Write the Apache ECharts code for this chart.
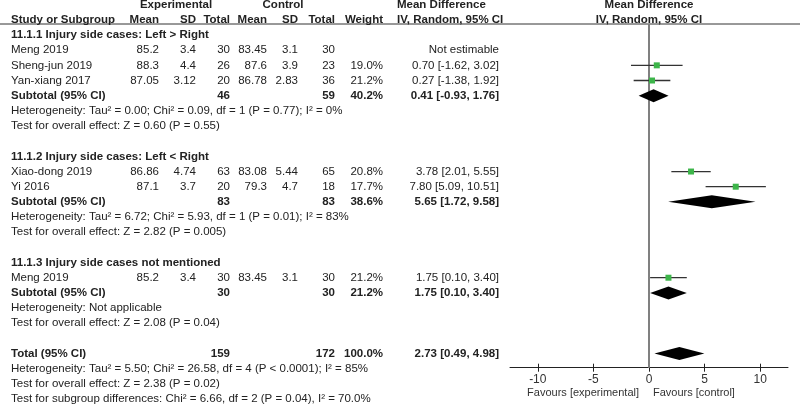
<!DOCTYPE html>
<html>
<head>
    <meta charset="utf-8">
    <title>Forest plot</title>
</head>
<body style="margin:0">
    <div id="main" style="width: 800px; height: 408px;"></div>
    <script src="https://cdn.jsdelivr.net/npm/echarts@6/dist/echarts.min.js"></script>
    <script type="text/javascript">
        // 数据
        var groupTitles = ['11.1.1 Injury side cases: Left > Right', '11.1.2 Injury side cases: Left < Right', '11.1.3 Injury side cases not mentioned'];
        var studyNames = ['Meng 2019', 'Sheng-jun 2019', 'Yan-xiang 2017', 'Xiao-dong 2019', 'Yi 2016', 'Meng 2019'];
        var studyGroup = [0, 0, 0, 1, 1, 2];
        var expMean = [85.2, 88.3, 87.05, 86.86, 87.1, 85.2];
        var expSD = [3.4, 4.4, 3.12, 4.74, 3.7, 3.4];
        var expN = [30, 26, 20, 63, 20, 30];
        var ctrlMean = [83.45, 87.6, 86.78, 83.08, 79.3, 83.45];
        var ctrlSD = [3.1, 3.9, 2.83, 5.44, 4.7, 3.1];
        var ctrlN = [30, 23, 36, 65, 18, 30];
        var weight = [null, 19.0, 21.2, 20.8, 17.7, 21.2];
        var md = [null, 0.70, 0.27, 3.78, 7.80, 1.75];
        var mdLow = [null, -1.62, -1.38, 2.01, 5.09, 0.10];
        var mdHigh = [null, 3.02, 1.92, 5.55, 10.51, 3.40];

        var subExpN = [46, 83, 30];
        var subCtrlN = [59, 83, 30];
        var subWeight = [40.2, 38.6, 21.2];
        var subMd = [0.41, 5.65, 1.75];
        var subLow = [-0.93, 1.72, 0.10];
        var subHigh = [1.76, 9.58, 3.40];
        var hetText = [
            'Heterogeneity: Tau² = 0.00; Chi² = 0.09, df = 1 (P = 0.77); I² = 0%',
            'Heterogeneity: Tau² = 6.72; Chi² = 5.93, df = 1 (P = 0.01); I² = 83%',
            'Heterogeneity: Not applicable'
        ];
        var effectText = [
            'Test for overall effect: Z = 0.60 (P = 0.55)',
            'Test for overall effect: Z = 2.82 (P = 0.005)',
            'Test for overall effect: Z = 2.08 (P = 0.04)'
        ];

        var totalExpN = 159, totalCtrlN = 172, totalWeight = 100.0;
        var totalMd = 2.73, totalLow = 0.49, totalHigh = 4.98;
        var footerText = [
            'Heterogeneity: Tau² = 5.50; Chi² = 26.58, df = 4 (P < 0.0001); I² = 85%',
            'Test for overall effect: Z = 2.38 (P = 0.02)',
            'Test for subgroup differences: Chi² = 6.66, df = 2 (P = 0.04), I² = 70.0%'
        ];
        var xTicks = [-10, -5, 0, 5, 10];

        // 布局
        var ROW0 = 35, ROWH = 15.17, H = 408;
        var PLOT_TOP = 24, PLOT_BOTTOM = 367.7;
        var COL = { study: 11, eMean: 159, eSD: 196, eN: 230, cMean: 267, cSD: 298, cN: 335, w: 383, ci: 499, ciHead: 397, plot: 649 };
        var FONT = '"Liberation Sans", Arial, sans-serif';
        var FS = '11.5px ';

        var cells = [];
        function put(x, r, t, a, b) {
            cells.push({ x: x, r: r, t: String(t), a: a || 'right', b: !!b });
        }
        function ciText(m, lo, hi) {
            return m.toFixed(2) + ' [' + lo.toFixed(2) + ', ' + hi.toFixed(2) + ']';
        }

        // 表头
        put(176, -2, 'Experimental', 'center', true);
        put(283, -2, 'Control', 'center', true);
        put(COL.ciHead, -2, 'Mean Difference', 'left', true);
        put(COL.plot, -2, 'Mean Difference', 'center', true);
        put(COL.study, -1, 'Study or Subgroup', 'left', true);
        put(COL.eMean, -1, 'Mean', 'right', true);
        put(COL.eSD, -1, 'SD', 'right', true);
        put(COL.eN, -1, 'Total', 'right', true);
        put(COL.cMean, -1, 'Mean', 'right', true);
        put(COL.cSD, -1, 'SD', 'right', true);
        put(COL.cN, -1, 'Total', 'right', true);
        put(COL.w, -1, 'Weight', 'right', true);
        put(COL.ciHead, -1, 'IV, Random, 95% CI', 'left', true);
        put(COL.plot, -1, 'IV, Random, 95% CI', 'center', true);

        var points = [], diamonds = [];
        var r = 0;
        groupTitles.forEach(function (title, g) {
            put(COL.study, r, title, 'left', true); r++;
            studyNames.forEach(function (name, s) {
                if (studyGroup[s] !== g) return;
                put(COL.study, r, name, 'left');
                put(COL.eMean, r, expMean[s]);
                put(COL.eSD, r, expSD[s]);
                put(COL.eN, r, expN[s]);
                put(COL.cMean, r, ctrlMean[s]);
                put(COL.cSD, r, ctrlSD[s]);
                put(COL.cN, r, ctrlN[s]);
                if (md[s] == null) {
                    put(COL.ci, r, 'Not estimable');
                } else {
                    put(COL.w, r, weight[s].toFixed(1) + '%');
                    put(COL.ci, r, ciText(md[s], mdLow[s], mdHigh[s]));
                    points.push([r, mdLow[s], mdHigh[s], md[s]]);
                }
                r++;
            });
            put(COL.study, r, 'Subtotal (95% CI)', 'left', true);
            put(COL.eN, r, subExpN[g], 'right', true);
            put(COL.cN, r, subCtrlN[g], 'right', true);
            put(COL.w, r, subWeight[g].toFixed(1) + '%', 'right', true);
            put(COL.ci, r, ciText(subMd[g], subLow[g], subHigh[g]), 'right', true);
            diamonds.push([r, subLow[g], subHigh[g], subMd[g]]);
            r++;
            put(COL.study, r, hetText[g], 'left'); r++;
            put(COL.study, r, effectText[g], 'left'); r++;
            r++;
        });
        put(COL.study, r, 'Total (95% CI)', 'left', true);
        put(COL.eN, r, totalExpN, 'right', true);
        put(COL.cN, r, totalCtrlN, 'right', true);
        put(COL.w, r, totalWeight.toFixed(1) + '%', 'right', true);
        put(COL.ci, r, ciText(totalMd, totalLow, totalHigh), 'right', true);
        diamonds.push([r, totalLow, totalHigh, totalMd]);
        r++;
        footerText.forEach(function (t) { put(COL.study, r, t, 'left'); r++; });

        var chartDom = document.getElementById('main');
        var myChart = echarts.init(chartDom);
        var option = {
            backgroundColor: '#fff',
            animation: false,
            grid: [
                { left: 0, right: 0, top: 0, bottom: 0, outerBoundsMode: 'none' },
                { left: 510, width: 278, top: PLOT_TOP, height: PLOT_BOTTOM - PLOT_TOP, outerBoundsMode: 'none' }
            ],
            xAxis: [
                { gridIndex: 0, type: 'value', min: 0, max: 800, show: false },
                {
                    gridIndex: 1, type: 'value', min: -12.5, max: 12.5, position: 'bottom',
                    axisLine: { onZero: false, lineStyle: { color: '#222', width: 1 } },
                    axisTick: { length: 4, customValues: xTicks, lineStyle: { color: '#222' } },
                    axisLabel: { customValues: xTicks, fontSize: 12, color: '#333', fontFamily: FONT, margin: 6 },
                    splitLine: { show: false }
                },
                {
                    // 刻度向上的部分
                    gridIndex: 1, type: 'value', min: -12.5, max: 12.5, position: 'bottom',
                    axisLine: { show: false, onZero: false },
                    axisTick: { inside: true, length: 4, customValues: xTicks, lineStyle: { color: '#222' } },
                    axisLabel: { show: false },
                    splitLine: { show: false }
                }
            ],
            yAxis: [
                { gridIndex: 0, type: 'value', inverse: true, min: -ROW0 / ROWH, max: (H - ROW0) / ROWH, show: false },
                { gridIndex: 1, type: 'value', inverse: true, min: (PLOT_TOP - ROW0) / ROWH, max: (PLOT_BOTTOM - ROW0) / ROWH, show: false }
            ],
            graphic: [
                { type: 'line', shape: { x1: 0, y1: PLOT_TOP, x2: 800, y2: PLOT_TOP }, style: { stroke: '#333', lineWidth: 1 } },
                { type: 'text', x: 639, y: 393, style: { text: 'Favours [experimental]', align: 'right', verticalAlign: 'middle', font: '11px ' + FONT, fill: '#333' } },
                { type: 'text', x: 653, y: 393, style: { text: 'Favours [control]', align: 'left', verticalAlign: 'middle', font: '11px ' + FONT, fill: '#333' } }
            ],
            series: [
                {
                    type: 'custom', xAxisIndex: 0, yAxisIndex: 0, clip: false, silent: true, z: 5,
                    data: cells.map(function (c) { return [c.x, c.r]; }),
                    renderItem: function (params, api) {
                        var c = cells[params.dataIndex];
                        var p = api.coord([api.value(0), api.value(1)]);
                        return {
                            type: 'text', x: p[0], y: p[1],
                            style: {
                                text: c.t, align: c.a, verticalAlign: 'middle',
                                font: (c.b ? 'bold ' : '') + FS + FONT, fill: '#222'
                            }
                        };
                    }
                },
                {
                    // 零线
                    type: 'line', xAxisIndex: 1, yAxisIndex: 1, data: [], z: 1, silent: true,
                    markLine: {
                        silent: true, symbol: 'none', label: { show: false }, animation: false,
                        lineStyle: { color: '#808080', width: 2, type: 'solid' },
                        data: [{ xAxis: 0 }]
                    }
                },
                {
                    type: 'custom', xAxisIndex: 1, yAxisIndex: 1, clip: false, silent: true, z: 8,
                    data: points,
                    encode: { x: [1, 2, 3], y: 0 },
                    renderItem: function (params, api) {
                        var y = api.value(0);
                        var lo = api.coord([api.value(1), y]);
                        var hi = api.coord([api.value(2), y]);
                        var m = api.coord([api.value(3), y]);
                        return {
                            type: 'group',
                            children: [
                                { type: 'line', shape: { x1: lo[0], y1: lo[1], x2: hi[0], y2: hi[1] }, style: { stroke: '#333', lineWidth: 1.3 } },
                                { type: 'rect', shape: { x: m[0] - 3, y: m[1] - 3, width: 6, height: 6 }, style: { fill: '#3db54a' } }
                            ]
                        };
                    }
                },
                {
                    type: 'custom', xAxisIndex: 1, yAxisIndex: 1, clip: false, silent: true, z: 9,
                    data: diamonds,
                    encode: { x: [1, 2, 3], y: 0 },
                    renderItem: function (params, api) {
                        var y = api.value(0);
                        var lo = api.coord([api.value(1), y]);
                        var hi = api.coord([api.value(2), y]);
                        var m = api.coord([api.value(3), y]);
                        return {
                            type: 'polygon',
                            shape: { points: [[lo[0], lo[1]], [m[0], m[1] - 6.5], [hi[0], hi[1]], [m[0], m[1] + 6.5]] },
                            style: { fill: '#000' }
                        };
                    }
                }
            ]
        };
        myChart.setOption(option);
    </script>
</body>
</html>
